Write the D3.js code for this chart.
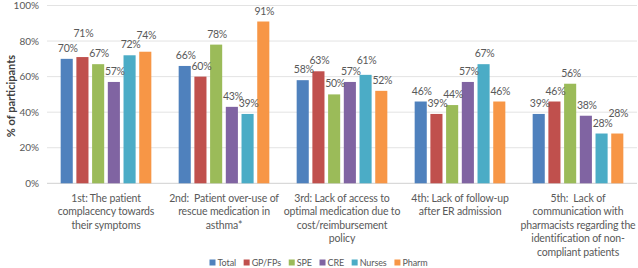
<!DOCTYPE html>
<html>
<head>
<meta charset="utf-8">
<script src="https://cdn.jsdelivr.net/npm/d3@7"></script>
<style>
  body { margin: 0; background: #fff; }
  svg text { font-family: Lato, "Open Sans", sans-serif; fill: #595959; white-space: pre; }
</style>
</head>
<body>
<svg id="chart" width="638" height="268"></svg>
<script>
// categories (one line per array item)
let categories = [
  ["1st: The patient", "complacency towards", "their symptoms"],
  ["2nd:  Patient over-use of", "rescue medication in", "asthma*"],
  ["3rd: Lack of access to", "optimal medication due to", "cost/reimbursement", "policy"],
  ["4th: Lack of follow-up", "after ER admission"],
  ["5th:  Lack of", "communication with", "pharmacists regarding the", "identification of non-", "compliant patients"]
];
let series = ["Total", "GP/FPs", "SPE", "CRE", "Nurses", "Pharm"];
let colors = ["#4F81BD", "#C0504D", "#9BBB59", "#8064A2", "#4BACC6", "#F79646"];

// values per series, one per category
let total  = [70, 66, 58, 46, 39];
let gpfps  = [71, 60, 63, 39, 46];
let spe    = [67, 78, 50, 44, 56];
let cre    = [57, 43, 57, 57, 38];
let nurses = [72, 39, 61, 67, 28];
let pharm  = [74, 91, 52, 46, 28];
let values = [total, gpfps, spe, cre, nurses, pharm];

let yTicks = [0, 20, 40, 60, 80, 100];

// a few labels were nudged up in the original to avoid overlap (px)
let labelNudge = {"0-1": -13, "0-5": -6, "2-4": -4, "4-5": -10};

let svg = d3.select("#chart");
let mLeft = 47, mRight = 637, mTop = 5.5, mBottom = 183.3;

let x0 = d3.scaleBand()
  .domain(d3.range(categories.length))
  .range([mLeft, mRight]);

let x1 = d3.scaleBand()
  .domain(series)
  .range([0, x0.bandwidth()])
  .paddingInner(0.23)
  .paddingOuter(0.87);

let y = d3.scaleLinear()
  .domain([0, 100])
  .range([mBottom, mTop]);

// gridlines
svg.append("g")
  .selectAll("line")
  .data(yTicks)
  .join("line")
  .attr("x1", mLeft)
  .attr("x2", mRight)
  .attr("y1", d => y(d))
  .attr("y2", d => y(d))
  .attr("stroke", d => d === 0 ? "#D0D0D0" : "#E3E3E3")
  .attr("stroke-width", 1);

// y axis labels
let yAxis = d3.axisLeft(y).tickValues(yTicks).tickFormat(d => d + "%").tickSize(0).tickPadding(8);
let yg = svg.append("g")
  .attr("transform", `translate(${mLeft},0)`)
  .call(yAxis);
yg.select(".domain").remove();
yg.selectAll("text")
  .style("font-size", "10px")
  .style("font-family", "Lato, sans-serif")
  .attr("fill", "#7f7f7f");

// y title
svg.append("text")
  .attr("transform", "translate(15,96) rotate(-90)")
  .attr("text-anchor", "middle")
  .style("font-size", "11px")
  .style("font-weight", "bold")
  .style("fill", "#404040")
  .text("% of participants");

// bars
let rows = [];
categories.forEach((c, ci) => {
  series.forEach((s, si) => {
    rows.push({ci: ci, si: si, s: s, v: values[si][ci]});
  });
});

svg.append("g")
  .selectAll("rect")
  .data(rows)
  .join("rect")
  .attr("x", d => x0(d.ci) + x1(d.s))
  .attr("y", d => y(d.v))
  .attr("width", x1.bandwidth())
  .attr("height", d => y(0) - y(d.v))
  .attr("fill", d => colors[d.si]);

// value labels
svg.append("g")
  .selectAll("text")
  .data(rows)
  .join("text")
  .attr("x", d => x0(d.ci) + x1(d.s) + x1.bandwidth() / 2 + 1)
  .attr("y", d => y(d.v) - 7 + (labelNudge[d.ci + "-" + d.si] || 0))
  .attr("text-anchor", "middle")
  .style("font-size", "10.5px")
  .style("letter-spacing", "-0.3px")
  .text(d => d.v + "%");

// category labels
let catG = svg.append("g")
  .selectAll("text")
  .data(categories)
  .join("text")
  .attr("text-anchor", "middle")
  .style("font-size", "10.5px")
  .style("letter-spacing", "-0.15px");
catG.selectAll("tspan")
  .data((d, i) => d.map(line => ({line: line, i: i})))
  .join("tspan")
  .attr("x", d => x0(d.i) + x0.bandwidth() / 2)
  .attr("y", (d, j) => 202 + j * 13.4)
  .text(d => d.line);

// legend
let legend = svg.append("g");
let items = legend.selectAll("g")
  .data(series)
  .join("g");
items.append("rect")
  .attr("width", 6)
  .attr("height", 6)
  .attr("y", -6)
  .attr("fill", (d, i) => colors[i]);
items.append("text")
  .attr("x", 8)
  .attr("y", 0)
  .style("font-size", "9px")
  .style("letter-spacing", "-0.1px")
  .text(d => d);

let widths = [];
items.each(function() { widths.push(this.getBBox().width); });
let legendW = 218;
let gap = (legendW - d3.sum(widths)) / (series.length - 1);
let pos = 0;
items.each(function(d, i) {
  d3.select(this).attr("transform", `translate(${pos},0)`);
  pos += widths[i] + gap;
});
legend.attr("transform", `translate(${318.5 - legendW / 2},265.5)`);
</script>
</body>
</html>
